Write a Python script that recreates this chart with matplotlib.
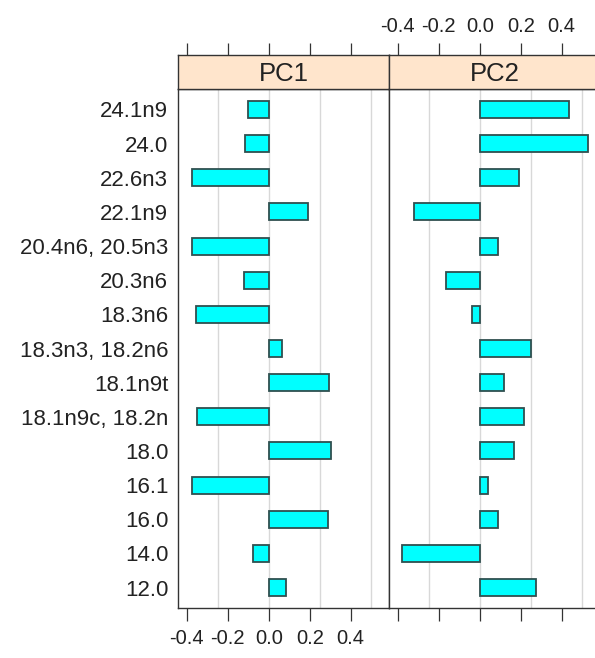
import numpy as np
import matplotlib.pyplot as plt

plt.rcParams['font.family'] = ['Liberation Sans', 'DejaVu Sans']

# Fatty acid labels, bottom to top as drawn
labels = ['12.0', '14.0', '16.0', '16.1', '18.0', '18.1n9c, 18.2n', '18.1n9t',
          '18.3n3, 18.2n6', '18.3n6', '20.3n6', '20.4n6, 20.5n3', '22.1n9',
          '22.6n3', '24.0', '24.1n9']
pc1 = [0.083, -0.077, 0.288, -0.374, 0.304, -0.348, 0.293,
       0.065, -0.355, -0.122, -0.374, 0.193, -0.374, -0.116, -0.102]
pc2 = [0.274, -0.381, 0.090, 0.041, 0.165, 0.216, 0.120,
       0.250, -0.038, -0.167, 0.089, -0.323, 0.193, 0.526, 0.437]
panels = ['PC1', 'PC2']
ticks = [-0.4, -0.2, 0.0, 0.2, 0.4]
tick_labels = ['-0.4', '-0.2', '0.0', '0.2', '0.4']
grid_at = [-0.25, 0.0, 0.25, 0.5]

W, H = 595, 658
fig = plt.figure(figsize=(W / 100, H / 100), dpi=100)

xlim = (-0.443, 0.587)
ylim = (0.4, 15.6)
edge = '#333333'
txt = '#222222'
y = np.arange(1, len(labels) + 1)

lefts = [178, 389]
pw = 211
top_panel, bot_panel, top_strip = 89, 608, 55

for i, (name, vals) in enumerate(zip(panels, [pc1, pc2])):
    ax = fig.add_axes([lefts[i] / W, (H - bot_panel) / H, pw / W, (bot_panel - top_panel) / H])
    for g in grid_at:
        ax.axvline(g, color='#d8d8d8', lw=1, zorder=0)
    ax.barh(y, vals, height=0.5, color='#00FFFF', edgecolor='#2f4f4f', linewidth=1.3, zorder=2)
    ax.set_xlim(*xlim)
    ax.set_ylim(*ylim)
    for s in ax.spines.values():
        s.set_color(edge)
        s.set_linewidth(1.0)
    ax.set_xticks(ticks)
    ax.tick_params(axis='x', direction='out', length=9, width=0.9, color=edge,
                   labelsize=14.5, labelcolor=txt, pad=6)
    if i == 0:
        ax.set_xticklabels(tick_labels)
        ax.set_yticks(y)
        ax.set_yticklabels(labels)
        ax.tick_params(axis='y', length=0, labelsize=16, labelcolor=txt, pad=7)
    else:
        ax.set_xticklabels([])
        ax.set_yticks([])

    # strip with panel name
    sx = fig.add_axes([lefts[i] / W, (H - top_panel) / H, pw / W, (top_panel - top_strip) / H])
    sx.set_facecolor('#FFE5CC')
    sx.set_xlim(*xlim)
    sx.set_ylim(0, 1)
    for s in sx.spines.values():
        s.set_color(edge)
        s.set_linewidth(1.0)
    sx.text(0.5, 0.45, name, transform=sx.transAxes, ha='center', va='center',
            fontsize=18.5, color=txt)
    sx.set_yticks([])
    sx.xaxis.tick_top()
    sx.set_xticks(ticks)
    sx.tick_params(axis='x', direction='out', length=9, width=0.9, color=edge,
                   labelsize=14.5, labelcolor=txt, pad=5)
    if i == 1:
        sx.set_xticklabels(tick_labels)
    else:
        sx.set_xticklabels([])

fig.savefig('out.png', dpi=100, facecolor='white')
